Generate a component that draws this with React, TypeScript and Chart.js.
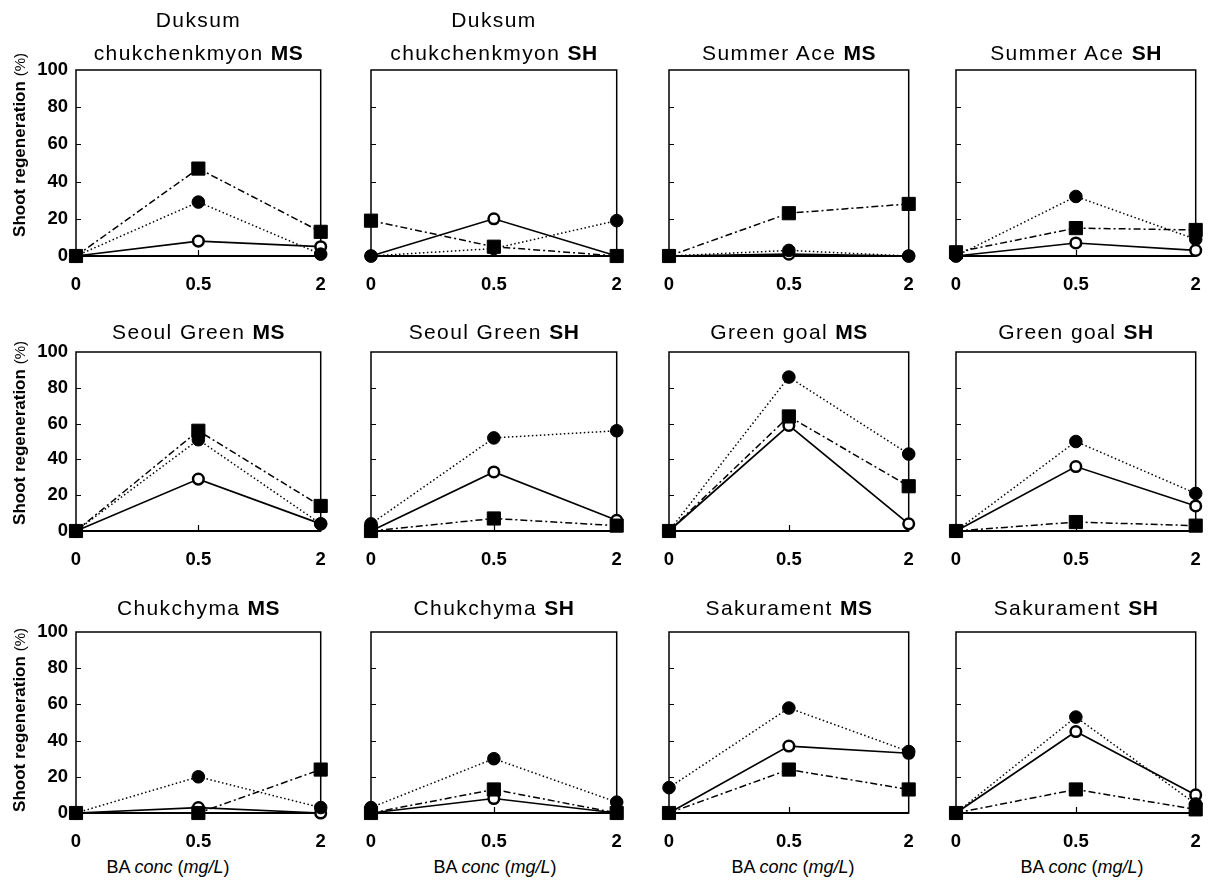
import React, { useEffect, useRef } from "react";
import { Chart, registerables } from "chart.js";

Chart.register(...registerables);

// ---------- data ----------
const categories = ["0", "0.5", "2"];
const yTickValues = [0, 20, 40, 60, 80, 100];

const cultivarLines: string[][] = [
  ["Duksum", "chukchenkmyon"],
  ["Duksum", "chukchenkmyon"],
  ["Summer Ace"],
  ["Summer Ace"],
  ["Seoul Green"],
  ["Seoul Green"],
  ["Green goal"],
  ["Green goal"],
  ["Chukchyma"],
  ["Chukchyma"],
  ["Sakurament"],
  ["Sakurament"],
];
const mediumLabels = ["MS", "SH", "MS", "SH", "MS", "SH", "MS", "SH", "MS", "SH", "MS", "SH"];

// open circle, solid line
const openCircleSeries: number[][] = [
  [0, 8, 5],
  [0, 20, 0],
  [0, 1, 0],
  [0, 7, 3],
  [0, 29, 4],
  [0, 33, 6],
  [0, 59, 4],
  [0, 36, 14],
  [0, 3, 0],
  [0, 8, 0],
  [0, 37, 33],
  [0, 45, 10],
];
// filled circle, dotted line
const filledCircleSeries: number[][] = [
  [0, 29, 1],
  [0, 4, 19],
  [0, 3, 0],
  [0, 32, 9],
  [0, 51, 4],
  [4, 52, 56],
  [0, 86, 43],
  [0, 50, 21],
  [0, 20, 3],
  [3, 30, 6],
  [14, 58, 34],
  [0, 53, 5],
];
// filled square, dash-dot line
const squareSeries: number[][] = [
  [0, 47, 13],
  [19, 5, 0],
  [0, 23, 28],
  [2, 15, 14],
  [0, 56, 14],
  [0, 7, 3],
  [0, 64, 25],
  [0, 5, 3],
  [0, 0, 24],
  [0, 13, 0],
  [0, 24, 13],
  [0, 13, 2],
];

const yAxisTitle = "Shoot regeneration";
const yAxisUnit = "(%)";

// ---------- layout ----------
const FONT = "'Liberation Sans', Arial, Helvetica, sans-serif";
const ROW_TOP = [70, 352, 632];
const ROW_BOTTOM = [256, 531, 813];
const COL_LEFT = [76, 371, 669, 956];
const COL_RIGHT = [321, 617, 909, 1196];
const TITLE_BASELINE = [60, 339, 615];
const YTITLE_CENTER = [145, 433, 720];
const XTITLE_CENTER = [168, 495, 793, 1082];

const framePlugin = {
  id: "frame",
  beforeDatasetsDraw(chart: any) {
    const { ctx, chartArea: a, scales } = chart;
    ctx.save();
    ctx.strokeStyle = "#000";
    ctx.lineWidth = 1.5;
    ctx.strokeRect(a.left, a.top, a.right - a.left, a.bottom - a.top);
    ctx.lineWidth = 2.2;
    ctx.beginPath();
    ctx.moveTo(a.left, a.bottom);
    ctx.lineTo(a.right, a.bottom);
    ctx.stroke();
    ctx.lineWidth = 1.2;
    ctx.beginPath();
    for (const v of yTickValues.slice(1, -1)) {
      const y = Math.round(scales.y.getPixelForValue(v)) + 0.5;
      ctx.moveTo(a.left, y);
      ctx.lineTo(a.left + 5, y);
    }
    const xm = Math.round(scales.x.getPixelForValue(1)) + 0.5;
    ctx.moveTo(xm, a.bottom);
    ctx.lineTo(xm, a.bottom - 6);
    ctx.stroke();
    ctx.restore();
  },
};

function Panel({ idx }: { idx: number }) {
  const ref = useRef<HTMLCanvasElement | null>(null);
  const r = Math.floor(idx / 4);
  const c = idx % 4;
  const L = c === 0 ? 72 : 20;
  const R = 10;
  const T = 14;
  const B = 44;
  const x0 = COL_LEFT[c];
  const x1 = COL_RIGHT[c];
  const y0 = ROW_TOP[r];
  const y1 = ROW_BOTTOM[r];
  const W = x1 - x0 + L + R;
  const H = y1 - y0 + T + B;

  useEffect(() => {
    if (!ref.current) return;
    const tickFont = { family: FONT, size: 18.5, weight: "bold" as const };
    const chart = new Chart(ref.current, {
      type: "line",
      data: {
        labels: categories,
        datasets: [
          {
            label: "open",
            data: openCircleSeries[idx],
            order: 2,
            clip: false,
            borderColor: "#000",
            borderWidth: 1.7,
            pointStyle: "circle",
            pointRadius: 5.3,
            pointBorderWidth: 2.5,
            pointBackgroundColor: "#fff",
            pointBorderColor: "#000",
          },
          {
            label: "filled",
            data: filledCircleSeries[idx],
            order: 1,
            clip: false,
            borderColor: "#000",
            borderWidth: 1.5,
            borderDash: [1.5, 2.5],
            pointStyle: "circle",
            pointRadius: 6.3,
            pointBorderWidth: 1,
            pointBackgroundColor: "#000",
            pointBorderColor: "#000",
          },
          {
            label: "square",
            data: squareSeries[idx],
            order: 0,
            clip: false,
            borderColor: "#000",
            borderWidth: 1.5,
            borderDash: [7, 3, 2, 3],
            pointStyle: "rect",
            pointRadius: 9.3,
            pointBorderWidth: 1,
            pointBackgroundColor: "#000",
            pointBorderColor: "#000",
          },
        ] as any,
      },
      options: {
        animation: false,
        responsive: false,
        maintainAspectRatio: false,
        events: [],
        layout: { padding: { left: 0, right: R, top: T, bottom: 0 } },
        plugins: {
          legend: { display: false },
          tooltip: { enabled: false },
          title: { display: false },
        },
        scales: {
          x: {
            type: "category",
            offset: false,
            grid: { display: false, drawTicks: true, tickLength: 18 },
            border: { display: false },
            ticks: {
              color: "#000",
              font: tickFont,
              padding: 0,
              maxRotation: 0,
              autoSkip: false,
            },
            afterFit: (s: any) => {
              s.height = B;
            },
          },
          y: {
            min: 0,
            max: 100,
            grid: { display: false, drawTicks: true, tickLength: 8 },
            border: { display: false },
            ticks: {
              display: c === 0,
              stepSize: 20,
              color: "#000",
              font: tickFont,
              padding: 0,
            },
            afterFit: (s: any) => {
              s.width = L;
            },
          },
        },
      } as any,
      plugins: [framePlugin],
    });
    return () => chart.destroy();
  }, [idx]);

  return (
    <canvas
      ref={ref}
      width={W}
      height={H}
      style={{ position: "absolute", left: x0 - L, top: y0 - T, width: W, height: H }}
    />
  );
}

function PanelTitle({ idx }: { idx: number }) {
  const r = Math.floor(idx / 4);
  const c = idx % 4;
  const lines = cultivarLines[idx];
  const cx = (COL_LEFT[c] + COL_RIGHT[c]) / 2;
  const lh = 33;
  const top = TITLE_BASELINE[r] - 24 - (lines.length - 1) * lh;
  return (
    <div
      style={{
        position: "absolute",
        left: cx,
        top,
        transform: "translateX(-50%)",
        fontFamily: FONT,
        fontSize: 21,
        lineHeight: `${lh}px`,
        letterSpacing: "1.4px",
        textAlign: "center",
        whiteSpace: "nowrap",
        color: "#000",
      }}
    >
      {lines.map((ln, i) => (
        <div key={i}>
          {ln}
          {i === lines.length - 1 ? (
            <>
              {" "}
              <b style={{ letterSpacing: "0.5px" }}>{mediumLabels[idx]}</b>
            </>
          ) : null}
        </div>
      ))}
    </div>
  );
}

export default function App() {
  const idxs = Array.from({ length: 12 }, (_, i) => i);
  return (
    <div
      style={{
        position: "absolute",
        left: 0,
        top: 0,
        width: 1208,
        height: 880,
        overflow: "hidden",
        background: "#fff",
      }}
    >
      {idxs.map((i) => (
        <Panel key={"p" + i} idx={i} />
      ))}
      {idxs.map((i) => (
        <PanelTitle key={"t" + i} idx={i} />
      ))}
      {YTITLE_CENTER.map((cy, r) => (
        <div
          key={"y" + r}
          style={{
            position: "absolute",
            left: 20,
            top: cy,
            transform: "translate(-50%, -50%) rotate(-90deg)",
            fontFamily: FONT,
            fontSize: 17,
            lineHeight: "20px",
            whiteSpace: "nowrap",
            color: "#000",
          }}
        >
          <b>{yAxisTitle}</b> <span style={{ fontSize: 15 }}>{yAxisUnit}</span>
        </div>
      ))}
      {XTITLE_CENTER.map((cx, c) => (
        <div
          key={"x" + c}
          style={{
            position: "absolute",
            left: cx,
            top: 857,
            transform: "translateX(-50%)",
            fontFamily: FONT,
            fontSize: 18,
            lineHeight: "20px",
            whiteSpace: "nowrap",
            color: "#000",
          }}
        >
          BA <i>conc</i> (<i>mg/L</i>)
        </div>
      ))}
    </div>
  );
}
